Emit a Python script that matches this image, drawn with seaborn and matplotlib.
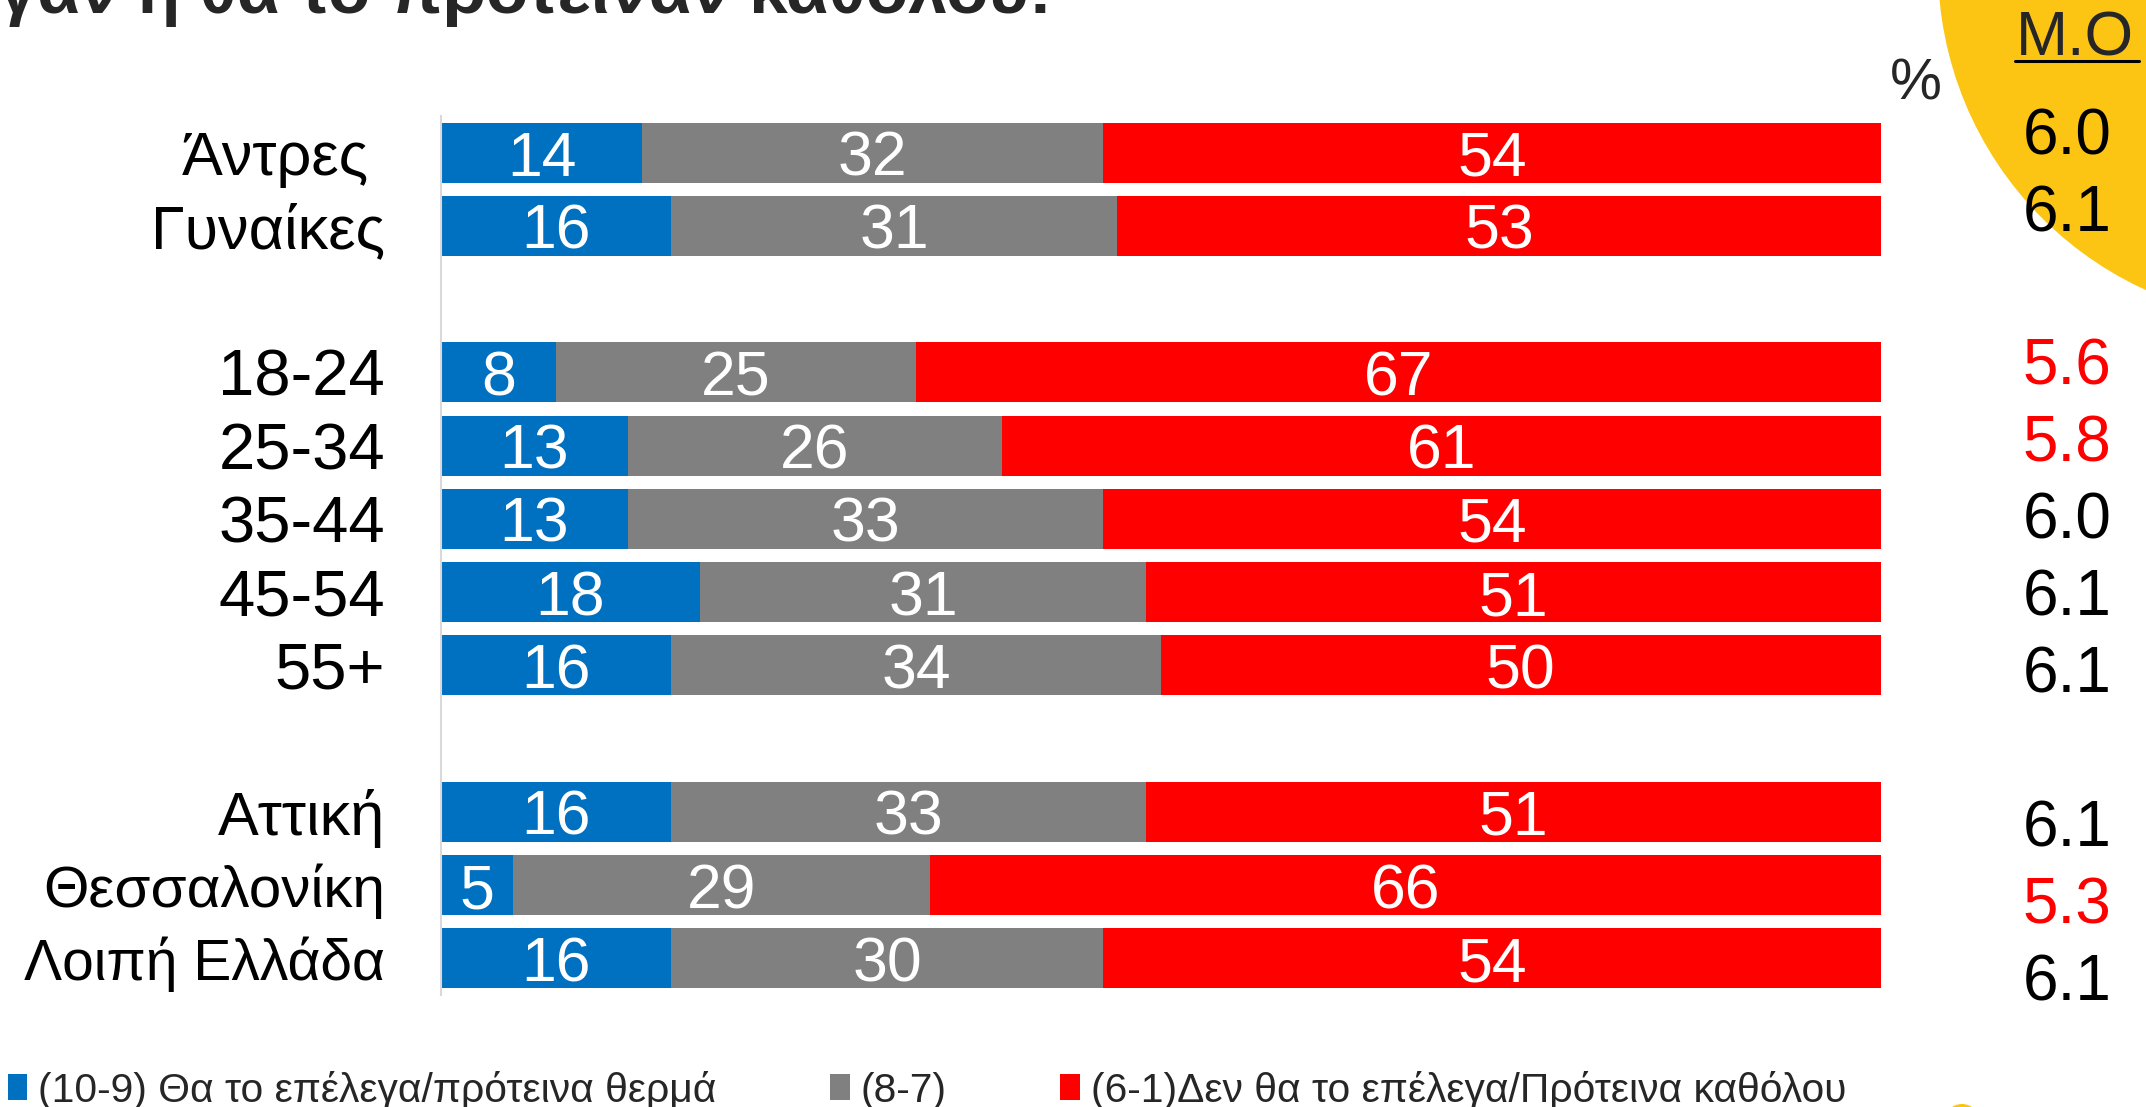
import pandas as pd
import matplotlib.pyplot as plt
import matplotlib.transforms as mtransforms
from matplotlib.patches import Patch, Circle
from matplotlib.lines import Line2D
import seaborn as sns

# --- Daten ---
groups = ["Άντρες ", "Γυναίκες", "18-24", "25-34", "35-44", "45-54", "55+",
          "Αττική", "Θεσσαλονίκη", "Λοιπή Ελλάδα"]
warm = [14, 16, 8, 13, 13, 18, 16, 16, 5, 16]    # (10-9)
mid = [32, 31, 25, 26, 33, 31, 34, 33, 29, 30]   # (8-7)
cold = [54, 53, 67, 61, 54, 51, 50, 51, 66, 54]  # (6-1)
mean_score = [6.0, 6.1, 5.6, 5.8, 6.0, 6.1, 6.1, 6.1, 5.3, 6.1]

legend_labels = ["(10-9) Θα το επέλεγα/πρότεινα θερμά", "(8-7)",
                 "(6-1)Δεν θα το επέλεγα/Πρότεινα καθόλου"]
title = "Πόσο θα το επέλεγαν ή θα το πρότειναν καθόλου:"

# Reihenfolge mit Leerzeilen zwischen den Gruppen
order = groups[:2] + [" "] + groups[2:7] + ["  "] + groups[7:]

BLUE, GREY, RED = "#0070C0", "#808080", "#FF0000"
YELLOW = "#FCC514"

df = pd.DataFrame({"group": groups, "warm": warm, "mid": mid, "cold": cold})
df["c1"] = df["warm"]
df["c2"] = df["warm"] + df["mid"]
df["c3"] = df["c2"] + df["cold"]

sns.set_theme(style="white")
plt.rcParams["font.family"] = ["Liberation Sans", "DejaVu Sans"]

fig = plt.figure(figsize=(21.46, 11.07), dpi=100)
ax = fig.add_axes([0.2054, 0.1012, 0.6709, 0.7940])

# gestapelte Balken: hinten die Summe, vorne die Teilsummen
for col, colr in [("c3", RED), ("c2", GREY), ("c1", BLUE)]:
    sns.barplot(data=df, x=col, y="group", order=order, orient="h",
                color=colr, saturation=1, width=0.82, errorbar=None,
                linewidth=0, ax=ax)

ax.set_xlim(0, 100)
ax.set_ylim(len(order) - 0.5, -0.5)
ax.set_xlabel("")
ax.set_ylabel("")
ax.set_xticks([])
ax.tick_params(axis="y", length=0, pad=40, labelsize=44, labelcolor="black")
# Schriftgrößen leicht angleichen (Referenz-Font hat andere Laufweiten)
for lab in ax.get_yticklabels():
    t = lab.get_text()
    if t[:1].isdigit():
        lab.set_fontsize(47)
    elif t == "Θεσσαλονίκη":
        lab.set_fontsize(42)
    elif t == "Λοιπή Ελλάδα":
        lab.set_fontsize(41)
for s in ["top", "right", "bottom"]:
    ax.spines[s].set_visible(False)
ax.spines["left"].set_color("#D9D9D9")
ax.spines["left"].set_linewidth(1.5)

# Werte in den Balken
for _, row in df.iterrows():
    pos = order.index(row["group"])
    for start, val in [(0, row["warm"]), (row["c1"], row["mid"]), (row["c2"], row["cold"])]:
        ax.text(start + val / 2, pos, str(val), ha="center", va="center_baseline",
                color="white", fontsize=45)

# Mittelwert-Spalte (M.O)
trans = mtransforms.blended_transform_factory(ax.transAxes, ax.transData)
for g, m in zip(groups, mean_score):
    pos = order.index(g)
    ax.text(1.1296, pos * 1.05 + 0.02, f"{m:.1f}", transform=trans, ha="center",
            va="baseline", fontsize=46, color=RED if m < 6.0 else "black",
            clip_on=False)

# gelber Kreis oben rechts + kleiner Punkt unten
fig.add_artist(Circle((22.93, 11.40), 3.55, transform=fig.dpi_scale_trans,
                      color=YELLOW, zorder=-1, lw=0))
fig.add_artist(Circle((19.62, -0.15), 0.18, transform=fig.dpi_scale_trans,
                      color=YELLOW, zorder=-1, lw=0))

fig.text(2016 / 2146, 1 - 55 / 1107, "Μ.Ο", ha="left", va="baseline", fontsize=45)
fig.add_artist(Line2D([20.15, 21.39], [11.07 - 0.61, 11.07 - 0.61],
                      transform=fig.dpi_scale_trans, color="black", lw=2.2))
fig.text(1916 / 2146, 1 - 100 / 1107, "%", ha="center", va="baseline", fontsize=42)

# Titel (oben abgeschnitten)
fig.text(1052 / 2146, 1 - 13 / 1107, title, ha="right", va="baseline",
         fontsize=50, fontweight="bold")

# Legende
handles = [Patch(color=c, lw=0) for c in [BLUE, GREY, RED]]
fig.legend(handles, legend_labels, loc="center left",
           bbox_to_anchor=(8 / 2146, 1 - 1090 / 1107), ncol=3, frameon=False,
           fontsize=29.3, handlelength=0.47, handleheight=0.61, handletextpad=0.27,
           columnspacing=2.8, borderpad=0, borderaxespad=0)

fig.savefig("out.png", dpi=100)
